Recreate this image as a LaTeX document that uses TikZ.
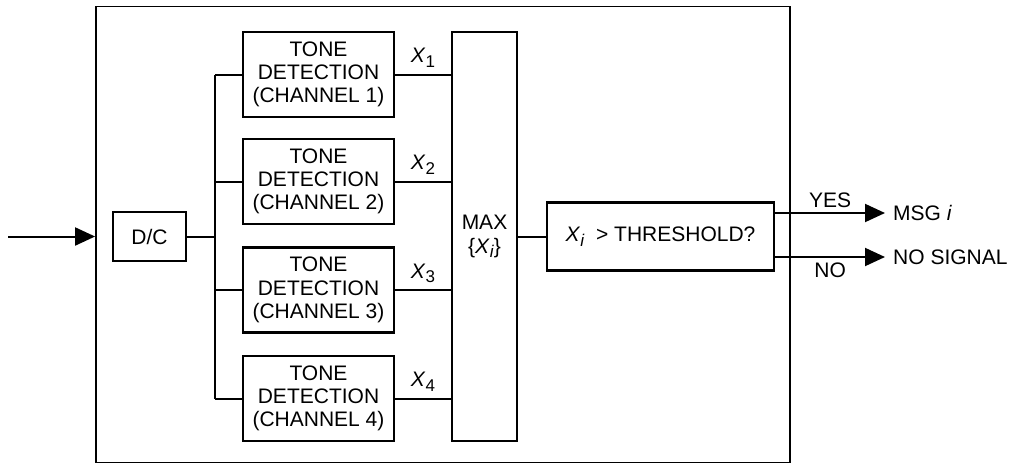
\documentclass[tikz,border=0pt]{standalone}
\usepackage{fontspec}
\setmainfont{Liberation Sans}
\usetikzlibrary{arrows.meta}

\newcommand{\lowidx}[1]{\raisebox{-4.5pt}{\fontsize{17}{17}\selectfont #1}}
\newcommand{\Xv}[1]{\textit{X}\lowidx{#1}}

\tikzset{
    every node/.style={font=\fontsize{21}{23.3}\selectfont},
    blockbox/.style={draw, line width=2.4pt, inner sep=0pt, align=center},
    wire/.style={line width=2pt},
    sigarrow/.style={wire, -{Triangle[length=20pt, width=18pt]}}
}

\begin{document}
\begin{tikzpicture}[x=1pt, y=-1pt]
        \useasboundingbox (0,0) rectangle (1010,464);
        \node[draw, line width=1.8pt, minimum width=694, minimum height=456] (enc) at (443,234.5) {};
        \node[blockbox, minimum width=73, minimum height=49] (dc) at (149.5,236.5) {D/C};
        \foreach \i/\y in {1/74.5, 2/181.5, 3/290, 4/398.5}{
            \node[blockbox, minimum width=151, minimum height=85] (tone\i) at (318.5,\y)
                {TONE\\DETECTION\\(CHANNEL \i)};
        }
        \node[blockbox, minimum width=65, minimum height=409] (max) at (484.5,236.5)
            {MAX\\\{\textit{X}\lowidx{\textit{i}}\}};
        \node[blockbox, minimum width=227, minimum height=68] (thr) at (660.5,236.5)
            {\textit{X}\lowidx{\textit{i}}\ \ > THRESHOLD?};
        \coordinate (in) at (8,236.5);
        \coordinate (br) at (215,236.5);
        \coordinate (yes) at (885,213);
        \coordinate (no) at (885,257);

        \draw[sigarrow] (in) -- (in -| enc.west);
        \draw[wire] (dc.east) -- (br);
        \draw[wire] (tone1.west -| br) -- (tone4.west -| br);
        \foreach \i in {1,...,4}{
            \draw[wire] (tone\i.west -| br) -- (tone\i.west);
            \draw[wire] (tone\i.east) -- (tone\i.east -| max.west)
                node[midway, above=3pt] {\Xv{\i}};
        }
        \draw[wire] (max.east) -- (thr.west);
        \draw[sigarrow] (thr.east |- yes) -- (yes) node[midway, above=1pt] {YES};
        \draw[sigarrow] (thr.east |- no) -- (no) node[midway, below=1pt] {NO};
        \node[anchor=west, inner sep=0pt] (msg) at ([xshift=8pt]yes) {MSG \textit{i}};
        \node[anchor=west, inner sep=0pt] (nosig) at ([xshift=8pt]no) {NO SIGNAL};
    \end{tikzpicture}
\end{document}
